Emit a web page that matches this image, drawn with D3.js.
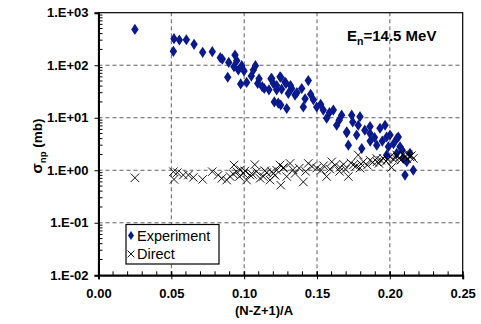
<!DOCTYPE html>
<html>
<head>
<meta charset="utf-8">
<script src="https://cdn.jsdelivr.net/npm/d3@7"></script>
<style>
  body { margin: 0; background: #fff; }
  svg { display: block; font-family: Arial, "Liberation Sans", sans-serif; }
</style>
</head>
<body>
<div id="chart"></div>
<script>
// experiment: [ (N-Z+1)/A , sigma_np (mb) ]
const experiment = [
  [0.025, 480], [0.0518, 320], [0.0555, 302], [0.0603, 306], [0.0514, 184],
  [0.0656, 250], [0.0715, 176], [0.0781, 181], [0.0836, 139], [0.085, 131],
  [0.0894, 113], [0.0887, 59], [0.0937, 156], [0.0949, 122], [0.093, 94],
  [0.096, 81], [0.0983, 98], [0.0999, 78], [0.0976, 44], [0.1017, 47],
  [0.1049, 62], [0.1063, 81], [0.1077, 98], [0.1093, 45], [0.1124, 39],
  [0.1138, 36], [0.117, 34], [0.1184, 55], [0.12, 45], [0.1223, 34],
  [0.1251, 59], [0.1257, 35], [0.1287, 45], [0.1207, 20], [0.1234, 19],
  [0.1251, 17.5], [0.1292, 15], [0.1189, 56], [0.1246, 60], [0.1223, 41],
  [0.128, 48], [0.1326, 36], [0.1303, 29], [0.1349, 27], [0.1395, 36],
  [0.144, 51], [0.1418, 23], [0.1475, 22], [0.1406, 16], [0.1498, 16],
  [0.1543, 14], [0.1612, 14], [0.1566, 9.8], [0.1669, 11.2], [0.1738, 11.2],
  [0.1795, 10.5], [0.1635, 7.2], [0.1704, 5.4], [0.1783, 7.2], [0.1864, 6.8],
  [0.1932, 6.3], [0.1967, 7.2], [0.2001, 4.7], [0.2058, 4.3], [0.1704, 5.2],
  [0.1772, 4.7], [0.1864, 5.0], [0.1978, 4.3], [0.2047, 4.0], [0.1715, 3.0],
  [0.1807, 2.6], [0.191, 3.0], [0.199, 2.8], [0.207, 2.8], [0.1978, 1.95],
  [0.2047, 2.1], [0.2092, 1.7], [0.2116, 1.45], [0.2138, 2.1], [0.2104, 0.81],
  [0.2161, 1.0], [0.1585, 12.5], [0.1652, 9.0], [0.1745, 8.3], [0.1828, 5.8],
  [0.1895, 4.2], [0.1948, 3.6], [0.2025, 3.2], [0.2085, 2.4], [0.1865, 3.6],
  [0.1525, 18], [0.1456, 28], [0.1362, 30], [0.1318, 41], [0.1102, 55]
];

// direct: [ (N-Z+1)/A , sigma_np (mb) ]
const direct = [
  [0.025, 0.72], [0.0514, 0.94], [0.0518, 0.67], [0.0541, 0.9], [0.0582, 0.81],
  [0.0617, 0.81], [0.0651, 0.73], [0.0715, 0.67], [0.0781, 0.94], [0.0822, 0.81],
  [0.0846, 0.7], [0.088, 0.65], [0.0903, 0.76], [0.093, 1.26], [0.0949, 0.94],
  [0.0967, 0.76], [0.0994, 0.87], [0.1017, 0.65], [0.104, 0.81], [0.1073, 1.28],
  [0.1086, 0.94], [0.1109, 0.7], [0.1131, 0.76], [0.1155, 0.9], [0.1177, 0.65],
  [0.12, 0.87], [0.1223, 1.0], [0.1246, 1.26], [0.1251, 0.52], [0.1269, 1.1],
  [0.1292, 0.76], [0.119, 0.94], [0.127, 1.13], [0.1315, 1.35], [0.1349, 0.87],
  [0.1406, 0.6], [0.144, 1.35], [0.1498, 1.1], [0.1566, 0.76], [0.1601, 1.45],
  [0.1658, 1.13], [0.1715, 0.76], [0.1749, 1.26], [0.1783, 1.95], [0.1818, 1.45],
  [0.1864, 1.55], [0.191, 1.68], [0.1955, 1.68], [0.2001, 1.8], [0.2047, 1.95],
  [0.2092, 1.95], [0.2138, 1.8], [0.2161, 1.68], [0.2012, 1.13], [0.0925, 0.85],
  [0.0975, 1.02], [0.1005, 0.97], [0.1058, 0.83], [0.1142, 0.98], [0.1212, 0.8],
  [0.1335, 1.02], [0.1378, 1.1], [0.1422, 0.95], [0.1465, 1.18], [0.1528, 1.0],
  [0.1545, 1.22], [0.1588, 1.05], [0.1625, 1.25], [0.1682, 1.3], [0.1695, 1.05],
  [0.1732, 1.38], [0.1768, 1.2], [0.1802, 1.32], [0.1845, 1.25], [0.1882, 1.42],
  [0.1925, 1.35], [0.1938, 1.55], [0.1975, 1.48], [0.1985, 1.62], [0.2028, 1.6],
  [0.2065, 1.72], [0.2075, 1.55], [0.2105, 1.85], [0.2118, 1.65], [0.2125, 2.0],
  [0.2148, 1.9], [0.2035, 1.75], [0.1912, 1.45], [0.1795, 1.1], [0.1655, 0.95]
];

const xTicks = [0, 0.05, 0.10, 0.15, 0.20, 0.25];
const yTicks = [1e-2, 1e-1, 1e0, 1e1, 1e2, 1e3];
const yTickLabels = ["1.E-02", "1.E-01", "1.E+00", "1.E+01", "1.E+02", "1.E+03"];
const seriesNames = ["Experiment", "Direct"];

const width = 481, height = 324;
const margin = { top: 12.7, right: 18.3, bottom: 48.7, left: 98.5 };
const blue = "#0a1a8c";

const x = d3.scaleLinear().domain([0, 0.25]).range([margin.left, width - margin.right]);
const y = d3.scaleLog().domain([1e-2, 1e3]).range([height - margin.bottom, margin.top]);

const svg = d3.select("#chart").append("svg")
  .attr("width", width)
  .attr("height", height);

// grid
const grid = svg.append("g")
  .attr("stroke", "#606060")
  .attr("stroke-dasharray", "4,3")
  .attr("stroke-width", 1);
grid.selectAll(".gx")
  .data(xTicks.slice(1, -1))
  .join("line")
  .attr("x1", d => x(d)).attr("x2", d => x(d))
  .attr("y1", y.range()[0]).attr("y2", y.range()[1]);
grid.selectAll(".gy")
  .data(yTicks.slice(1, -1))
  .join("line")
  .attr("x1", x.range()[0]).attr("x2", x.range()[1])
  .attr("y1", d => y(d)).attr("y2", d => y(d));

// frame
svg.append("rect")
  .attr("x", x.range()[0]).attr("y", y.range()[1])
  .attr("width", x.range()[1] - x.range()[0])
  .attr("height", y.range()[0] - y.range()[1])
  .attr("fill", "none").attr("stroke", "#000").attr("stroke-width", 1.2);

// axes
const xAxis = svg.append("g")
  .attr("transform", `translate(0,${y.range()[0]})`)
  .call(d3.axisBottom(x).tickValues(xTicks).tickFormat(d3.format(".2f")).tickSize(4).tickPadding(9));
const xMinor = d3.range(0, 26).map(i => i / 100);
xAxis.selectAll(".minor")
  .data(xMinor)
  .join("line")
  .attr("class", "minor")
  .attr("x1", d => x(d)).attr("x2", d => x(d))
  .attr("y1", 0).attr("y2", -4)
  .attr("stroke", "#000");

const yAxis = svg.append("g")
  .attr("transform", `translate(${x.range()[0]},0)`)
  .call(d3.axisLeft(y).tickValues(yTicks).tickFormat((d, i) => yTickLabels[i]).tickSize(4).tickPadding(6));
const yMinor = [];
for (let e = -2; e < 3; e++) for (let m = 2; m <= 9; m++) yMinor.push(m * Math.pow(10, e));
yAxis.selectAll(".minor")
  .data(yMinor)
  .join("line")
  .attr("class", "minor")
  .attr("x1", 0).attr("x2", 4)
  .attr("y1", d => y(d)).attr("y2", d => y(d))
  .attr("stroke", "#000");

svg.selectAll(".domain").attr("stroke", "#000").attr("stroke-width", 2);
svg.selectAll(".tick line").attr("stroke", "#000");
svg.selectAll(".tick text")
  .attr("font-size", 13).attr("font-weight", "bold")
  .attr("font-family", "Arial, 'Liberation Sans', sans-serif").attr("fill", "#000");
xAxis.selectAll(".tick line").attr("y1", -4);

// series
const diamond = d3.symbol().type(d3.symbolDiamond).size(36);
svg.append("g").selectAll("path")
  .data(experiment)
  .join("path")
  .attr("d", diamond)
  .attr("transform", d => `translate(${x(d[0])},${y(d[1])}) scale(1.15,1)`)
  .attr("fill", blue);

const cross = d3.symbol().type(d3.symbolX).size(48);
svg.append("g").selectAll("path")
  .data(direct)
  .join("path")
  .attr("d", cross)
  .attr("transform", d => `translate(${x(d[0])},${y(d[1])})`)
  .attr("fill", "none")
  .attr("stroke", "#000")
  .attr("stroke-width", 0.9);

// legend
const lg = svg.append("g");
lg.append("rect")
  .attr("x", 126).attr("y", 224.5).attr("width", 93).attr("height", 39.5)
  .attr("fill", "#fff").attr("stroke", "#000").attr("stroke-width", 1.2);
lg.append("path").attr("d", d3.symbol().type(d3.symbolDiamond).size(24))
  .attr("transform", "translate(131,235.5) scale(1.15,1)").attr("fill", blue);
lg.append("path").attr("d", d3.symbol().type(d3.symbolX).size(32)).attr("transform", "translate(131,254)")
  .attr("fill", "none").attr("stroke", "#000").attr("stroke-width", 0.9);
lg.selectAll("text")
  .data(seriesNames)
  .join("text")
  .attr("x", 137).attr("y", (d, i) => 240.5 + i * 18.5)
  .attr("font-size", 14.5)
  .text(d => d);

// title
const t = svg.append("text")
  .attr("x", 347).attr("y", 41)
  .attr("font-size", 15).attr("font-weight", "bold");
t.append("tspan").text("E");
t.append("tspan").attr("dy", 4).attr("font-size", 10.5).text("n");
t.append("tspan").attr("dy", -4).text("=14.5 MeV");

// axis titles
svg.append("text")
  .attr("x", 264).attr("y", 315)
  .attr("text-anchor", "middle")
  .attr("font-size", 13).attr("font-weight", "bold")
  .text("(N-Z+1)/A");

const yl = svg.append("text")
  .attr("transform", "translate(42,146) rotate(-90)")
  .attr("text-anchor", "middle")
  .attr("font-size", 13.5).attr("font-weight", "bold");
yl.append("tspan").attr("font-size", 15).text("σ");
yl.append("tspan").attr("dy", 3.5).attr("font-size", 9.5).text("np");
yl.append("tspan").attr("dy", -3.5).text(" (mb)");
</script>
</body>
</html>
